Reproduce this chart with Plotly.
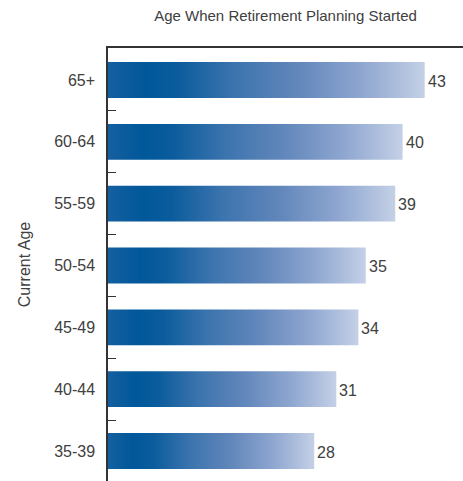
import plotly.graph_objects as go

categories = ["35-39", "40-44", "45-49", "50-54", "55-59", "60-64", "65+"]
values = [28, 31, 34, 35, 39, 40, 43]
title_text = "Age When Retirement Planning Started"
y_title = "Current Age"

FONT = "Liberation Sans Narrow, Arial Narrow, sans-serif"
TEXT_COLOR = "#404040"
AXIS_COLOR = "#333333"
HALF = 0.29
gradient = [
    [0.0, "#155f9f"],
    [0.12, "#00589a"],
    [0.22, "#0b5c9c"],
    [0.40, "#3c74ae"],
    [0.60, "#6287bb"],
    [0.80, "#8ea6d0"],
    [1.0, "#c4d0e6"],
]

fig = go.Figure()
for i, (c, v) in enumerate(zip(categories, values)):
    fig.add_trace(go.Scatter(
        x=[0, v, v, 0, 0],
        y=[i - HALF, i - HALF, i + HALF, i + HALF, i - HALF],
        mode="lines", fill="toself",
        line=dict(width=0, color="rgba(0,0,0,0)"),
        fillgradient=dict(type="horizontal", colorscale=gradient),
        hoverinfo="skip", showlegend=False,
    ))

for i, v in enumerate(values):
    fig.add_annotation(
        x=v, y=i, xref="x", yref="y", text=str(v), showarrow=False,
        xanchor="left", yanchor="middle", xshift=1, yshift=-1,
        font=dict(family=FONT, size=16, color=TEXT_COLOR),
    )

fig.update_layout(
    width=463, height=481,
    margin=dict(l=108, r=0, t=48, b=0),
    paper_bgcolor="white", plot_bgcolor="white",
    font=dict(family=FONT, color=TEXT_COLOR),
    title=dict(text=title_text, x=0.5, xref="paper", xanchor="center",
               y=1, yref="container", yanchor="top", pad=dict(t=10),
               font=dict(family=FONT, size=15, color=TEXT_COLOR)),
    xaxis=dict(range=[0, 48.2], side="top", showline=True, linecolor=AXIS_COLOR,
               linewidth=1.5, showticklabels=False, ticks="", showgrid=False,
               zeroline=False),
    yaxis=dict(range=[-0.485, 6.518], tickvals=list(range(len(categories))),
               ticktext=categories, ticks="", showline=True, linecolor=AXIS_COLOR,
               linewidth=1.5, showgrid=False, zeroline=False,
               ticklabelstandoff=8,
               tickfont=dict(family=FONT, size=16, color=TEXT_COLOR),
               minor=dict(tickvals=[i + 0.5 for i in range(len(categories) - 1)],
                          ticks="inside", ticklen=8, tickcolor=AXIS_COLOR,
                          tickwidth=1.2, showgrid=False),
               title=dict(text=y_title, standoff=20,
                          font=dict(family=FONT, size=16, color=TEXT_COLOR))),
)

fig.write_html("out.html")
